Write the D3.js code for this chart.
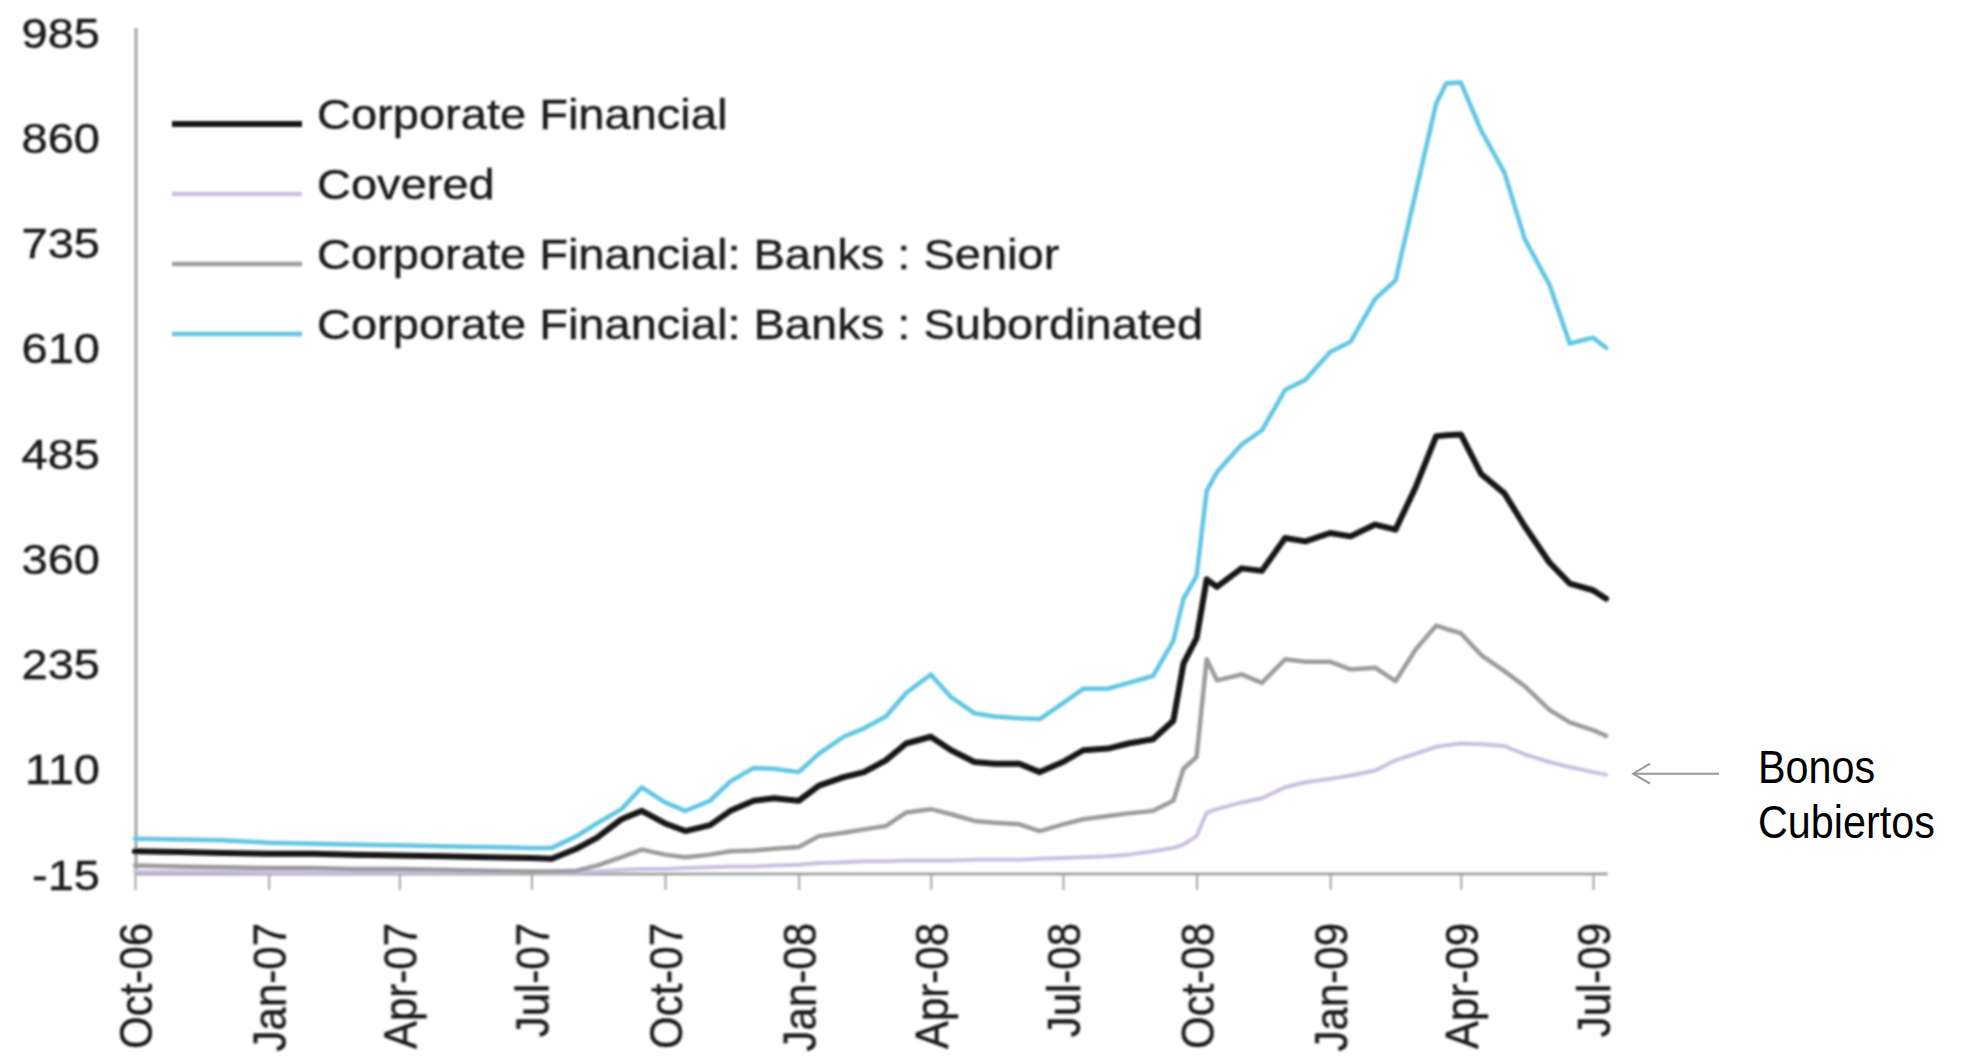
<!DOCTYPE html>
<html>
<head>
<meta charset="utf-8">
<script src="https://cdn.jsdelivr.net/npm/d3@7"></script>
<style>
  html, body { margin: 0; padding: 0; background: #ffffff; }
  svg { display: block; }
</style>
</head>
<body>
<script>
// Observation dates (semi-monthly, denser around the October 2008 jump and the March 2009 peak)
const dates = [
  "2006-10-01","2006-11-01","2006-12-01","2007-01-01","2007-02-01","2007-03-01","2007-04-01","2007-05-01","2007-06-01","2007-07-01",
  "2007-07-15","2007-08-01","2007-08-15","2007-09-01","2007-09-15","2007-10-01","2007-10-15","2007-11-01","2007-11-15","2007-12-01",
  "2007-12-15","2008-01-01","2008-01-15","2008-02-01","2008-02-15","2008-03-01","2008-03-15","2008-04-01","2008-04-15","2008-05-01",
  "2008-05-15","2008-06-01","2008-06-15","2008-07-01","2008-07-15","2008-08-01","2008-08-15","2008-09-01","2008-09-15","2008-09-22",
  "2008-10-01","2008-10-08","2008-10-15","2008-11-01","2008-11-15","2008-12-01","2008-12-15","2009-01-01","2009-01-15","2009-02-01",
  "2009-02-15","2009-03-01","2009-03-15","2009-03-22","2009-04-01","2009-04-15","2009-05-01","2009-05-15","2009-06-01","2009-06-15",
  "2009-07-01","2009-07-10"
];

// Spreads (bp)
const corporateFinancial = [
  12, 11, 10, 9, 9, 8, 7, 6, 5, 4,
  3, 15, 28, 50, 60, 45, 36, 43, 60, 72,
  75, 72, 90, 100, 106, 120, 140, 148, 132, 118,
  116, 116, 106, 118, 132, 134, 140, 145, 167, 235,
  265, 335, 326, 348, 345, 384, 380, 390, 386, 400,
  394, 445, 505, 506, 507, 460, 437, 398, 355, 330,
  322, 312
];
const covered = [
  -12, -12, -12, -13, -13, -13, -13, -13, -13, -13,
  -14, -13, -12, -10, -9, -9, -8, -7, -6, -6,
  -5, -4, -2, -1, 0, 0, 1, 1, 1, 2,
  2, 2, 3, 4, 5, 6, 8, 12, 16, 20,
  30, 58, 62, 70, 75, 88, 94, 98, 102, 108,
  120, 128, 136, 138, 140, 139, 137, 127, 118, 112,
  106, 103
];
const banksSenior = [
  -5, -6, -7, -8, -8, -9, -9, -10, -11, -12,
  -12, -11, -5, 5, 14, 8, 5, 8, 12, 13,
  15, 17, 30, 34, 38, 42, 58, 62, 56, 48,
  46, 44, 36, 44, 50, 54, 57, 60, 72, 110,
  124, 240, 215, 222, 212, 240, 237, 237, 228, 230,
  214, 252, 280, 276, 271, 245, 226, 208, 180, 165,
  156, 149
];
const banksSubordinated = [
  27, 26, 25, 22, 21, 20, 19, 18, 17, 16,
  16, 30, 45, 62, 88, 70, 60, 72, 95, 111,
  110, 106, 128, 148, 158, 172, 200, 222, 195, 176,
  172, 170, 169, 188, 205, 205, 212, 220, 262, 312,
  339, 440, 462, 495, 512, 560, 572, 605, 617, 668,
  690, 795, 900, 924, 925, 868, 818, 739, 685, 615,
  622, 610
];

const seriesNames = [
  "Corporate Financial",
  "Covered",
  "Corporate Financial: Banks : Senior",
  "Corporate Financial: Banks : Subordinated"
];
const seriesColors = ["#141414", "#cbbfe0", "#9c9c9c", "#62c6e4"];
const seriesWidths = [6, 4, 4.5, 4.5];

const yTicks = [-15, 110, 235, 360, 485, 610, 735, 860, 985];
const xTickDates = [
  "2006-10-01","2007-01-01","2007-04-01","2007-07-01","2007-10-01","2008-01-01",
  "2008-04-01","2008-07-01","2008-10-01","2009-01-01","2009-04-01","2009-07-01"
];
const annotationLines = ["Bonos", "Cubiertos"];

const W = 1962, H = 1060;
const parse = d3.timeParse("%Y-%m-%d");
const fmt = d3.timeFormat("%b-%y");
const dateValues = dates.map(parse);

const x = d3.scaleTime()
  .domain([parse("2006-10-01"), parse("2009-07-01")])
  .range([135, 1593]);
const y = d3.scaleLinear().domain([-15, 985]).range([874, 32]);

const svg = d3.select("body").append("svg")
  .attr("width", W).attr("height", H)
  .attr("viewBox", `0 0 ${W} ${H}`);

const defs = svg.append("defs");
defs.append("filter").attr("id", "soft")
  .attr("x", "-5%").attr("y", "-5%").attr("width", "110%").attr("height", "110%")
  .append("feGaussianBlur").attr("stdDeviation", 0.9);

const chart = svg.append("g").attr("filter", "url(#soft)");
const FONT = "'Liberation Sans', Arial, Helvetica, sans-serif";
const textColor = "#1a1a1a";
const axisColor = "#a3a3a3";
const stretch = 1.12;

// Axis lines
const xEnd = d3.timeDay.offset(dateValues[dateValues.length - 1], 1);
chart.append("line")
  .attr("x1", x.range()[0] + 1).attr("x2", x(xEnd))
  .attr("y1", y(-15)).attr("y2", y(-15))
  .attr("stroke", axisColor).attr("stroke-width", 3);
chart.append("line")
  .attr("x1", x.range()[0] + 1).attr("x2", x.range()[0] + 1)
  .attr("y1", y(985) - 4).attr("y2", y(-15))
  .attr("stroke", axisColor).attr("stroke-width", 3);

// Bottom axis: ticks and rotated month labels
const xAxis = d3.axisBottom(x)
  .tickValues(xTickDates.map(parse))
  .tickSize(16)
  .tickFormat("");
const xAxisG = chart.append("g")
  .attr("transform", `translate(0,${y(-15)})`)
  .call(xAxis);
xAxisG.select(".domain").remove();
xAxisG.selectAll(".tick line").attr("stroke", axisColor).attr("stroke-width", 2);

chart.append("g").selectAll("g")
  .data(xTickDates.map(parse))
  .join("g")
  .attr("transform", d => `translate(${x(d)},923) scale(${stretch},1) rotate(-90)`)
  .append("text")
  .attr("text-anchor", "end")
  .attr("dy", "0.36em")
  .attr("font-family", FONT)
  .attr("font-size", 42)
  .attr("fill", textColor)
  .attr("stroke", textColor)
  .attr("stroke-width", 0.4)
  .text(d => fmt(d));

// Left axis labels (plain hyphen for negatives)
const yAxis = d3.axisLeft(y).tickValues(yTicks).tickSize(0).tickFormat(d => String(d));
const yAxisG = chart.append("g").attr("transform", "translate(136,0)").call(yAxis);
yAxisG.select(".domain").remove();
yAxisG.selectAll(".tick text")
  .attr("x", 0)
  .attr("text-anchor", "end")
  .attr("dy", "0.36em")
  .attr("font-family", FONT)
  .attr("font-size", 42)
  .attr("fill", textColor)
  .attr("stroke", textColor)
  .attr("stroke-width", 0.4)
  .attr("transform", `translate(-36,0) scale(${stretch},1)`);

// Series lines
const series = [corporateFinancial, covered, banksSenior, banksSubordinated];
const line = d3.line()
  .x((d, i) => x(dateValues[i]))
  .y(d => y(d))
  .curve(d3.curveLinear);

const drawOrder = [1, 2, 3, 0];
chart.append("g").selectAll("path")
  .data(drawOrder)
  .join("path")
  .attr("d", k => line(series[k]))
  .attr("fill", "none")
  .attr("stroke", k => seriesColors[k])
  .attr("stroke-width", k => seriesWidths[k])
  .attr("stroke-linejoin", "round")
  .attr("stroke-linecap", "round");

// Legend
const legend = chart.append("g");
const legendRows = legend.selectAll("g")
  .data(seriesNames)
  .join("g")
  .attr("transform", (d, i) => `translate(0,${124 + i * 70})`);
legendRows.append("line")
  .attr("x1", 172).attr("x2", 302)
  .attr("y1", 0).attr("y2", 0)
  .attr("stroke", (d, i) => seriesColors[i])
  .attr("stroke-width", (d, i) => i === 0 ? 6 : 4.5);
legendRows.append("g")
  .attr("transform", `translate(317,5) scale(${stretch},1)`)
  .append("text")
  .attr("font-family", FONT)
  .attr("font-size", 42)
  .attr("fill", textColor)
  .attr("stroke", textColor)
  .attr("stroke-width", 0.4)
  .text(d => d);

// Annotation pointing at the covered-bond series
const last = dateValues.length - 1;
const tipX = x(dateValues[last]) + 27;
const tipY = y(covered[last]) - 1;
const note = svg.append("g");
note.append("line")
  .attr("x1", tipX).attr("x2", tipX + 86)
  .attr("y1", tipY).attr("y2", tipY)
  .attr("stroke", "#999999").attr("stroke-width", 2);
note.append("path")
  .attr("d", `M${tipX + 17},${tipY - 10} L${tipX},${tipY} L${tipX + 17},${tipY + 10}`)
  .attr("fill", "none")
  .attr("stroke", "#999999").attr("stroke-width", 2);
note.selectAll("g")
  .data(annotationLines)
  .join("g")
  .attr("transform", (d, i) => `translate(1758,${783 + i * 55}) scale(0.88,1)`)
  .append("text")
  .attr("font-family", FONT)
  .attr("font-size", 47)
  .attr("fill", "#000000")
  .text(d => d);
</script>
</body>
</html>
